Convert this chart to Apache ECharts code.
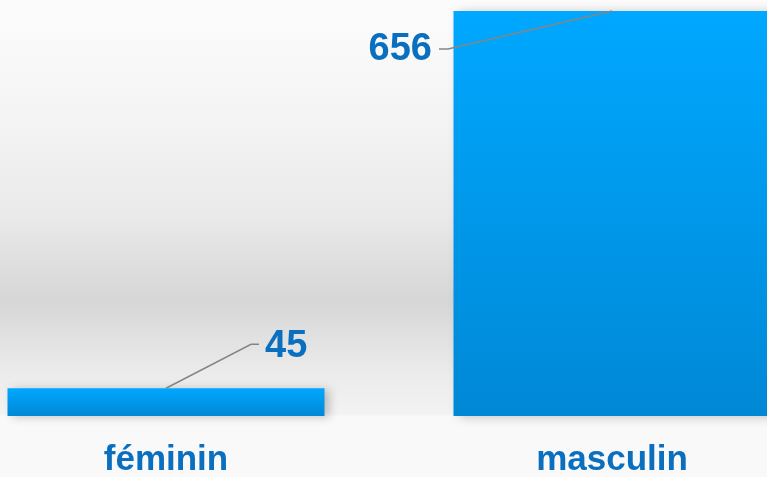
<!DOCTYPE html>
<html>
<head>
<meta charset="utf-8">
<script src="https://cdn.jsdelivr.net/npm/echarts@6/dist/echarts.min.js"></script>
<style>
html,body{margin:0;padding:0;}
#chart{width:767px;height:477px;}
</style>
</head>
<body>
<div id="chart"></div>
<script>
const categories = ['féminin', 'masculin'];
const values = [45, 656];
// leader line shapes per label (offsets relative to bar top-centre)
const leaderOffsets = [
  { bend: [85, -44], end: [93, -44], text: [99, -42], align: 'left' },
  { bend: [-164, 38], end: [-173, 38], text: [-180, 39], align: 'right' }
];

const chart = echarts.init(document.getElementById('chart'));
const textColor = '#0B6FBF';
const fontFamily = '"Liberation Sans", Arial, Helvetica, sans-serif';

chart.setOption({
  backgroundColor: new echarts.graphic.LinearGradient(0, 0, 0, 1, [
    { offset: 0, color: '#FCFCFC' },
    { offset: 0.2, color: '#F6F6F6' },
    { offset: 0.45, color: '#EAEAEA' },
    { offset: 0.63, color: '#D6D6D6' },
    { offset: 0.78, color: '#EBEBEB' },
    { offset: 0.869, color: '#F3F3F3' },
    { offset: 0.872, color: '#F9F9F9' },
    { offset: 1, color: '#F9F9F9' }
  ]),
  animation: false,
  grid: { left: -57, right: -68, top: 11, bottom: 61, containLabel: false, outerBoundsMode: 'none' },
  xAxis: {
    type: 'category',
    data: categories,
    axisLine: { show: false },
    axisTick: { show: false },
    axisLabel: {
      margin: 27,
      color: textColor,
      fontSize: 35,
      fontWeight: 'bold',
      fontFamily: fontFamily
    }
  },
  yAxis: {
    type: 'value',
    min: 0,
    max: 656,
    show: false,
    splitLine: { show: false }
  },
  series: [
    {
      type: 'bar',
      data: values,
      barWidth: 317,
      itemStyle: {
        color: new echarts.graphic.LinearGradient(0, 0, 0, 1, [
          { offset: 0, color: '#00A8FF' },
          { offset: 1, color: '#0088D6' }
        ]),
        shadowColor: 'rgba(0,0,0,0.22)',
        shadowBlur: 10,
        shadowOffsetX: 5,
        shadowOffsetY: 1
      }
    },
    {
      type: 'custom',
      clip: false,
      z: 5,
      data: values.map((v, i) => [i, v]),
      renderItem: function (params, api) {
        const i = params.dataIndex;
        const p = api.coord([api.value(0), api.value(1)]);
        const o = leaderOffsets[i];
        return {
          type: 'group',
          children: [
            {
              type: 'polyline',
              shape: {
                points: [
                  [p[0], p[1]],
                  [p[0] + o.bend[0], p[1] + o.bend[1]],
                  [p[0] + o.end[0], p[1] + o.end[1]]
                ]
              },
              style: { stroke: '#858585', lineWidth: 1.5, fill: null }
            },
            {
              type: 'text',
              x: p[0] + o.text[0],
              y: p[1] + o.text[1],
              style: {
                text: String(api.value(1)),
                fill: textColor,
                font: 'bold 38px ' + fontFamily,
                align: o.align,
                verticalAlign: 'middle'
              }
            }
          ]
        };
      }
    }
  ]
});
</script>
</body>
</html>
